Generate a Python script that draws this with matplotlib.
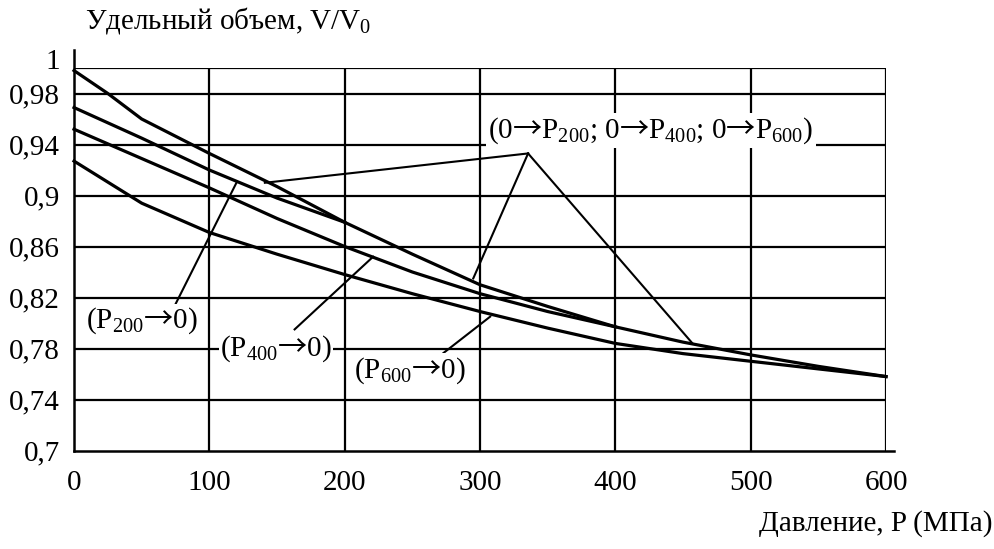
import matplotlib
matplotlib.use("Agg")
import matplotlib.pyplot as plt
from matplotlib.transforms import ScaledTranslation

plt.rcParams['font.family'] = ['Liberation Serif', 'DejaVu Serif']
# стрелка берется из Noto Sans CJK (длинная тонкая), остальной текст - Liberation Serif
plt.rcParams['mathtext.fontset'] = 'custom'
plt.rcParams['mathtext.rm'] = 'Noto Sans CJK JP'
plt.rcParams['mathtext.default'] = 'regular'

# Давление, МПа и удельный объем V/V0
p_load = [0, 25, 50, 100, 150, 200, 250, 300, 350, 400, 450, 500, 550, 600]
v_load = [0.998, 0.980, 0.960, 0.933, 0.907, 0.879, 0.854, 0.830, 0.813, 0.797, 0.785, 0.775, 0.766, 0.758]

p_200 = [0, 50, 100, 150, 200]
v_200 = [0.969, 0.945, 0.920, 0.898, 0.879]

p_400 = [0, 50, 100, 150, 200, 250, 300, 350, 400]
v_400 = [0.952, 0.929, 0.906, 0.882, 0.860, 0.840, 0.823, 0.809, 0.797]

p_600 = [0, 50, 100, 150, 200, 250, 300, 350, 400, 450, 500, 550, 600]
v_600 = [0.927, 0.894, 0.871, 0.854, 0.838, 0.823, 0.809, 0.796, 0.784, 0.776, 0.770, 0.764, 0.758]

x_ticks = [0, 100, 200, 300, 400, 500, 600]
y_ticks = [0.7, 0.74, 0.78, 0.82, 0.86, 0.9, 0.94, 0.98, 1.0]
y_labels = ['0,7', '0,74', '0,78', '0,82', '0,86', '0,9', '0,94', '0,98', '1']

FS = 21
ARR = r'$\mathrm{→}$'

fig = plt.figure(figsize=(9.95, 5.49), dpi=100)
ax = fig.add_axes([0.0744, 0.1794, 0.8161, 0.6967])

ax.set_xlim(0, 600)
ax.set_ylim(0.7, 1.0)

# сетка
for x in x_ticks[1:]:
    ax.axvline(x, color='black', lw=1.6, zorder=1)
for y in y_ticks[1:]:
    ax.axhline(y, color='black', lw=1.6, zorder=1)

ax.spines['top'].set_visible(False)
ax.spines['right'].set_visible(False)
ax.spines['left'].set_linewidth(1.8)
ax.spines['bottom'].set_linewidth(1.8)
ax.spines['left'].set_bounds(0.7, 1.014)
ax.spines['bottom'].set_bounds(0, 606)

ax.set_xticks(x_ticks)
ax.set_yticks(y_ticks)
ax.set_yticklabels(y_labels)
ax.tick_params(length=0, labelsize=FS)
ax.tick_params(axis='x', pad=14)
ax.tick_params(axis='y', pad=10)

# метка "1" чуть выше линии, как в оригинале
lab1 = ax.get_yticklabels()[-1]
lab1.set_transform(lab1.get_transform() + ScaledTranslation(0, 0.09, fig.dpi_scale_trans))

for px, vy in [(p_load, v_load), (p_200, v_200), (p_400, v_400), (p_600, v_600)]:
    ax.plot(px, vy, color='black', lw=2.3, zorder=2, clip_on=False)

# подписи кривых
lw_ptr = 1.5
apex = (335.5, 0.933)
for tx, ty in [(141, 0.910), (295, 0.835), (457, 0.784)]:
    ax.plot([apex[0], tx], [apex[1], ty], color='black', lw=lw_ptr, zorder=2)
ax.text(306, 0.951, f'(0{ARR}P$_{{200}}$; 0{ARR}P$_{{400}}$; 0{ARR}P$_{{600}}$)',
        fontsize=FS, ha='left', va='center', zorder=4,
        bbox=dict(facecolor='white', edgecolor='none', pad=1.5))

ax.plot([74.6, 120], [0.814, 0.910], color='black', lw=lw_ptr, zorder=2)
ax.text(9, 0.802, f'(P$_{{200}}${ARR}0)', fontsize=FS, ha='left', va='center', zorder=4,
        bbox=dict(facecolor='white', edgecolor='none', pad=1.0))

ax.plot([163, 221], [0.795, 0.852], color='black', lw=lw_ptr, zorder=2)
ax.text(108, 0.7795, f'(P$_{{400}}${ARR}0)', fontsize=FS, ha='left', va='center', zorder=4,
        bbox=dict(facecolor='white', edgecolor='none', pad=1.0))

ax.plot([273, 307.5], [0.7765, 0.805], color='black', lw=lw_ptr, zorder=2)
ax.text(207, 0.763, f'(P$_{{600}}${ARR}0)', fontsize=FS, ha='left', va='center', zorder=4,
        bbox=dict(facecolor='white', edgecolor='none', pad=1.0))

fig.text(85 / 995, 1 - 20 / 549, 'Удельный объем, V/V$_0$', fontsize=FS,
         ha='left', va='center')
fig.text(993 / 995, 1 - 524 / 549, 'Давление, P (МПа)', fontsize=FS,
         ha='right', va='center')

fig.savefig('out.png', dpi=100)
